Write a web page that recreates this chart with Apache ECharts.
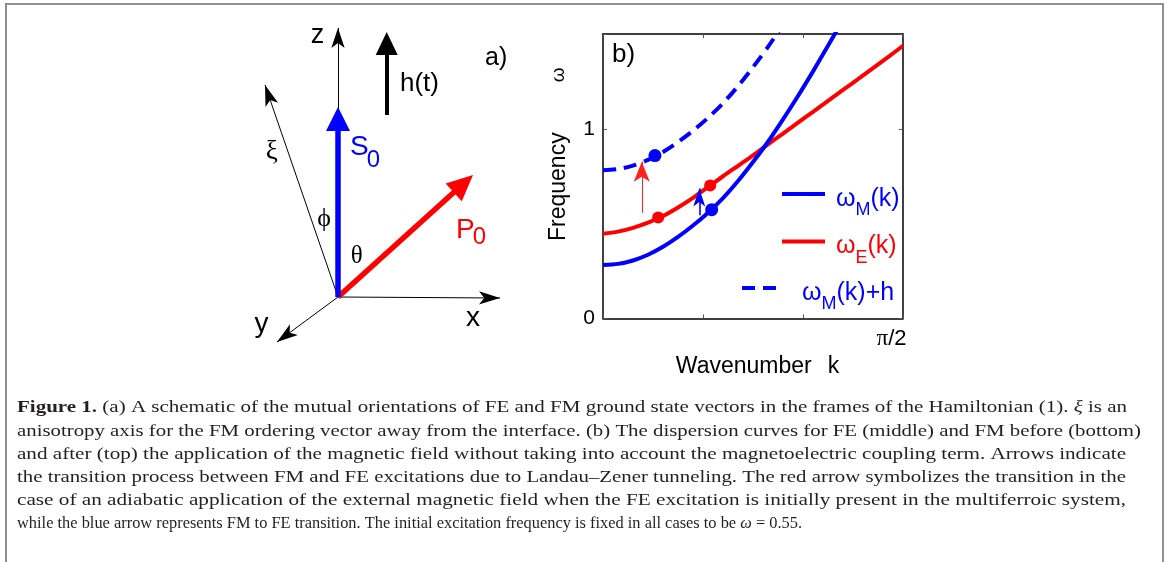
<!DOCTYPE html>
<html><head><meta charset="utf-8">
<script src="https://cdn.jsdelivr.net/npm/echarts@6/dist/echarts.min.js"></script>
<style>html,body{margin:0;padding:0;background:#fff}#c{width:1168px;height:562px}</style>
</head><body><div id="c"></div>
<script>
// ---------------- panel b data (k in radians, omega) ----------------
const kGrid   = [0, 0.0785, 0.1571, 0.2356, 0.3142, 0.3927, 0.4712, 0.5498, 0.6283, 0.7069, 0.7854, 0.8639, 0.9425, 1.0210, 1.0996, 1.1781, 1.2566, 1.3352, 1.4137, 1.4923, 1.5708];
const omegaM  = [0.282, 0.288, 0.306, 0.336, 0.378, 0.430, 0.490, 0.558, 0.635, 0.725, 0.825, 0.932, 1.050, 1.173, 1.303, 1.438, 1.575];
const omegaMh = [0.782, 0.788, 0.806, 0.836, 0.878, 0.930, 0.990, 1.058, 1.135, 1.225, 1.325, 1.432, 1.550];
const omegaE  = [0.447, 0.458, 0.478, 0.505, 0.540, 0.585, 0.636, 0.693, 0.750, 0.805, 0.860, 0.918, 0.975, 1.033, 1.090, 1.148, 1.205, 1.262, 1.320, 1.378, 1.438];
const blueDots  = [[0.272, 0.859], [0.569, 0.574]];
const redDots   = [[0.289, 0.533], [0.561, 0.701]];
const redArrow  = [[0.203, 0.557], [0.203, 0.827]];
const blueArrow = [[0.504, 0.545], [0.504, 0.686]];
const yTickLabels = {0: '0', 1: '1'};
const seriesNames = ['ωM(k)', 'ωE(k)', 'ωM(k)+h'];

// ---------------- panel a (schematic) vectors, origin at (0,0) ----------------
const axisZ  = [[0, 0], [0, 26.9]];
const axisX  = [[0, 0], [16.2, -0.1]];
const axisY  = [[0, 0], [-6.1, -4.5]];
const axisXi = [[0, 0], [-7.3, 21.2]];
const vecS0  = [[0, 0], [0, 19.0]];
const vecP0  = [[0, 0], [13.5, 12.2]];
const vecH   = [[4.87, 18.2], [4.87, 26.5]];

// ---------------- caption ----------------
const captionLines = [
  [['b', 'Figure 1.'], ['n', ' (a) A schematic of the mutual orientations of FE and FM ground state vectors in the frames of the Hamiltonian ('], ['l', '1'], ['n', '). '], ['i', 'ξ'], ['n', ' is an']],
  [['n', 'anisotropy axis for the FM ordering vector away from the interface. (b) The dispersion curves for FE (middle) and FM before (bottom)']],
  [['n', 'and after (top) the application of the magnetic field without taking into account the magnetoelectric coupling term. Arrows indicate']],
  [['n', 'the transition process between FM and FE excitations due to Landau–Zener tunneling. The red arrow symbolizes the transition in the']],
  [['n', 'case of an adiabatic application of the external magnetic field when the FE excitation is initially present in the multiferroic system,']],
  [['n', 'while the blue arrow represents FM to FE transition. The initial excitation frequency is fixed in all cases to be '], ['i', 'ω'], ['n', ' = 0.55.']]
];
const captionEnds = [1127, 1141, 1126, 1126, 1126, 802];

// =====================================================================
const chart = echarts.init(document.getElementById('c'), null, {renderer: 'canvas'});
const SANS = 'Liberation Sans';
const SERIF = 'Liberation Serif';
const BLUE = '#0000ff', RED = '#ff0000';

const gB = {left: 603, top: 34, width: 300, height: 284.5};
const xMaxB = Math.PI / 2, yMaxB = 1.5;
const sxB = gB.width / xMaxB, syB = gB.height / yMaxB;
const gA = {left: 238, top: 17, width: 300, height: 330};
const sA = 10;

function shorten(seg, hPx, sx, sy) {
  const p0 = seg[0], p1 = seg[1];
  const dx = (p1[0] - p0[0]) * sx, dy = (p1[1] - p0[1]) * sy;
  const L = Math.hypot(dx, dy);
  const t = (L - hPx / 2) / L;
  return [p0, [p0[0] + (p1[0] - p0[0]) * t, p0[1] + (p1[1] - p0[1]) * t]];
}
function arrow(seg, axisIdx, color, width, sym, size, sx, sy, z) {
  const coords = sym === 'triangle' ? shorten(seg, size[1], sx, sy) : seg;
  return {
    type: 'lines', coordinateSystem: 'cartesian2d', xAxisIndex: axisIdx, yAxisIndex: axisIdx,
    symbol: ['none', sym], symbolSize: [0, size], silent: true, z: z || 5,
    lineStyle: {color: color, width: width, opacity: 1, curveness: 0},
    itemStyle: {color: color},
    data: [{coords: coords}]
  };
}

// legend
function legendRich(c) {
  return {
    m: {fontSize: 25, fontFamily: SANS, color: c, lineHeight: 28, verticalAlign: 'top'},
    s: {fontSize: 18, fontFamily: SANS, color: c, lineHeight: 20, padding: [15, 0, 0, 0], verticalAlign: 'top'}
  };
}
const legendFmt = {
  'ωM(k)': '{m|ω}{s|M}{m|(k)}',
  'ωE(k)': '{m|ω}{s|E}{m|(k)}',
  'ωM(k)+h': '{m|ω}{s|M}{m|(k)+h}'
};
function legendItem(name, left, lineY, w, gap, color) {
  return {
    data: [name], left: left, top: lineY - 7, orient: 'vertical', padding: 0,
    itemWidth: w, itemHeight: 10, selectedMode: false,
    itemStyle: {opacity: 0, borderWidth: 0},
    lineStyle: {width: 4},
    formatter: n => legendFmt[n],
    textStyle: {color: color, padding: [13, 0, 0, gap], rich: legendRich(color)}
  };
}

// caption measure
const mctx = document.createElement('canvas').getContext('2d');
const CF = 17;
const capFonts = {
  n: `${CF}px "${SERIF}"`, b: `bold ${CF}px "${SERIF}"`, l: `${CF}px "${SERIF}"`, i: `italic ${CF}px "${SERIF}"`
};
const capRich = {
  n: {fontSize: CF, fontFamily: SERIF, color: '#231f20'},
  b: {fontSize: CF, fontFamily: SERIF, fontWeight: 'bold', color: '#231f20'},
  l: {fontSize: CF, fontFamily: SERIF, color: '#2a8cc8'},
  i: {fontSize: CF, fontFamily: SERIF, fontStyle: 'italic', color: '#231f20'}
};
const capX = 17;
const captionGraphics = captionLines.map((toks, i) => {
  let w = 0;
  toks.forEach(t => { mctx.font = capFonts[t[0]]; w += mctx.measureText(t[1]).width; });
  const s = (captionEnds[i] - capX) / w;
  return {
    type: 'text', x: capX, y: 414 + 23.2 * i - 6, scaleX: s, silent: true,
    style: {text: toks.map(t => `{${t[0]}|${t[1]}}`).join(''), rich: capRich,
      fontSize: CF, fontFamily: SERIF, fill: '#231f20', align: 'left', verticalAlign: 'middle'}
  };
});

function txt(str, x, y, size, color, family, align) {
  return {type: 'text', x: x, y: y, silent: true,
    style: {text: str, fontSize: size, fontFamily: family || SANS, fill: color || '#000',
      align: align || 'left', verticalAlign: 'middle'}};
}

const axisCommon = {
  axisLine: {show: true, onZero: false, lineStyle: {color: '#000', width: 1.5}},
  axisTick: {show: true, inside: true, length: 4, lineStyle: {color: '#555', width: 1}},
  splitLine: {show: false}
};

const option = {
  animation: false,
  backgroundColor: '#fff',
  grid: [
    Object.assign({show: false, outerBoundsMode: 'none', containLabel: false}, gB),
    Object.assign({show: false, outerBoundsMode: 'none', containLabel: false}, gA)
  ],
  xAxis: [
    Object.assign({gridIndex: 0, type: 'value', min: 0, max: xMaxB, interval: Math.PI / 6, position: 'bottom',
      axisLabel: {show: true, showMaxLabel: true, margin: 9,
        formatter: v => Math.abs(v - xMaxB) < 1e-6 ? '{p|π}/2' : '',
        fontSize: 22, fontFamily: SANS, color: '#000', align: 'center', padding: [0, 23, 0, 0],
        rich: {p: {fontSize: 23, fontFamily: SERIF, color: '#000'}}},
      name: '{a|Wavenumber}{k|k}', nameLocation: 'middle', nameGap: 28,
      nameTextStyle: {fontSize: 23, fontFamily: SANS, color: '#000', padding: [0, 0, 0, 9],
        rich: {a: {fontSize: 23, fontFamily: SANS, color: '#000'}, k: {fontSize: 23, fontFamily: SANS, color: '#000', padding: [0, 0, 0, 16]}}}
    }, axisCommon),
    Object.assign({gridIndex: 0, type: 'value', min: 0, max: xMaxB, interval: Math.PI / 6, position: 'top',
      axisLabel: {show: false}}, axisCommon),
    {gridIndex: 1, type: 'value', min: -10, max: 20, show: false}
  ],
  yAxis: [
    Object.assign({gridIndex: 0, type: 'value', min: 0, max: yMaxB, interval: 1, position: 'left',
      axisLabel: {show: true, margin: 8, formatter: v => (yTickLabels[v] !== undefined ? yTickLabels[v] : ''),
        fontSize: 21, fontFamily: SANS, color: '#000'},
      name: '{a|Frequency}{w|ω}', nameLocation: 'middle', nameGap: 33,
      nameTextStyle: {fontSize: 23, fontFamily: SANS, color: '#000', padding: [0, 0, 0, 44],
        rich: {a: {fontSize: 23, fontFamily: SANS, color: '#000'}, w: {fontSize: 19, fontFamily: SANS, color: '#000', padding: [0, 0, 0, 50]}}}
    }, axisCommon),
    Object.assign({gridIndex: 0, type: 'value', min: 0, max: yMaxB, interval: 1, position: 'right',
      axisLabel: {show: false}}, axisCommon),
    {gridIndex: 1, type: 'value', min: -5, max: 28, show: false}
  ],
  legend: [
    legendItem(seriesNames[0], 780, 193.5, 43, 6, BLUE),
    legendItem(seriesNames[1], 780, 241, 43, 6, RED),
    legendItem(seriesNames[2], 740, 287.5, 35, 20, BLUE)
  ],
  series: [
    {name: seriesNames[1], type: 'line', xAxisIndex: 0, yAxisIndex: 0, smooth: 0.3, symbol: 'none', clip: true,
      data: omegaE.map((w, i) => [kGrid[i], w]), lineStyle: {color: RED, width: 4}, itemStyle: {color: RED}, z: 2},
    {name: seriesNames[0], type: 'line', xAxisIndex: 0, yAxisIndex: 0, smooth: 0.3, symbol: 'none', clip: true,
      data: omegaM.map((w, i) => [kGrid[i], w]), lineStyle: {color: BLUE, width: 4}, itemStyle: {color: BLUE}, z: 2},
    {name: seriesNames[2], type: 'line', xAxisIndex: 0, yAxisIndex: 0, smooth: 0.3, symbol: 'none', clip: true,
      data: omegaMh.map((w, i) => [kGrid[i], w]), lineStyle: {color: BLUE, width: 4, type: [13, 8]}, itemStyle: {color: BLUE}, z: 2},
    {type: 'scatter', xAxisIndex: 0, yAxisIndex: 0, data: redDots, symbolSize: 12, itemStyle: {color: RED, opacity: 1}, z: 4, silent: true},
    {type: 'scatter', xAxisIndex: 0, yAxisIndex: 0, data: blueDots, symbolSize: 13, itemStyle: {color: BLUE, opacity: 1}, z: 4, silent: true},
    arrow(redArrow, 0, '#ff2020', 1, 'arrow', [12, 20], sxB, syB, 5),
    arrow(blueArrow, 0, BLUE, 1.6, 'arrow', [9, 18], sxB, syB, 5),
    // schematic
    arrow(axisZ, 2, '#000', 1, 'arrow', [10, 20], sA, sA, 3),
    arrow(axisX, 2, '#000', 1, 'arrow', [10, 21], sA, sA, 3),
    arrow(axisY, 2, '#000', 1, 'arrow', [10, 21], sA, sA, 3),
    arrow(axisXi, 2, '#000', 1, 'arrow', [10, 21], sA, sA, 3),
    arrow(vecH, 2, '#000', 4, 'triangle', [22, 23], sA, sA, 4),
    arrow(vecP0, 2, RED, 5.5, 'triangle', [24, 26], sA, sA, 4),
    arrow(vecS0, 2, BLUE, 5.5, 'triangle', [24, 24], sA, sA, 5)
  ],
  graphic: [
    {type: 'rect', shape: {x: 6, y: 4, width: 1157, height: 620}, silent: true,
      style: {fill: 'none', stroke: '#8f8f8f', lineWidth: 2}},
    // panel a labels
    txt('z', 317.5, 36, 27, '#000', SANS, 'center'),
    txt('h(t)', 400, 84, 26),
    txt('a)', 485, 58, 25),
    txt('ξ', 271.7, 152, 27, '#000', SERIF, 'center'),
    txt('S', 350, 147, 28, BLUE),
    txt('0', 366.7, 160, 24, BLUE),
    txt('ϕ', 324, 219, 26, '#000', SERIF, 'center'),
    txt('θ', 356.7, 256, 25, '#000', SERIF, 'center'),
    txt('P', 456, 230, 28, RED),
    txt('0', 472.7, 237, 24, RED),
    txt('x', 473, 318, 28, '#000', SANS, 'center'),
    txt('y', 261.5, 324, 28, '#000', SANS, 'center'),
    // panel b label
    txt('b)', 612, 55, 26)
  ].concat(captionGraphics)
};
chart.setOption(option);
</script>
</body></html>
